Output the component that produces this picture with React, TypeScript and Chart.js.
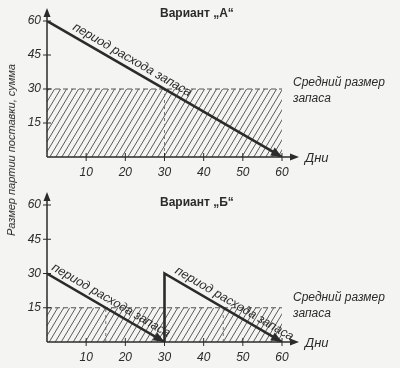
import React, { useEffect, useRef } from "react";
import { Chart, registerables } from "chart.js";
Chart.register(...registerables);

// ---- data ----
const xTicks = [0, 10, 20, 30, 40, 50, 60];
const yTicks = [0, 15, 30, 45, 60];
const daysA = [0, 60];
const stockA = [60, 0];
const avgA = 30;
const guidesA = [30];
const daysB = [0, 30, 30, 60];
const stockB = [30, 0, 30, 0];
const avgB = 15;
const guidesB = [15, 45];
const titleA = "Вариант „А“";
const titleB = "Вариант „Б“";
const lineLabel = "период расхода запаса";
const avgLabel = ["Средний размер", "запаса"];
const xAxisLabel = "Дни";
const yAxisLabel = "Размер партии поставки, сумма";

const BG = "#f4f4f3";
const INK = "#2b2b2b";
const SANS = '"Liberation Sans", Arial, sans-serif';

type Panel = {
  days: number[];
  stock: number[];
  avg: number;
  guides: number[];
  title: string;
  titleY: number;
  xAxisH: number;
  labels: { seg: number; t: number }[];
  arrows: number[];
  avgDy: number;
};

const panelA: Panel = {
  days: daysA, stock: stockA, avg: avgA, guides: guidesA, title: titleA,
  titleY: 14, xAxisH: 27, labels: [{ seg: 0, t: 0.095 }], arrows: [1], avgDy: -6,
};
const panelB: Panel = {
  days: daysB, stock: stockB, avg: avgB, guides: guidesB, title: titleB,
  titleY: 19, xAxisH: 26, labels: [{ seg: 0, t: 0.01 }, { seg: 2, t: 0.06 }], arrows: [1, 3], avgDy: -10,
};

function makeHatch() {
  const c = document.createElement("canvas");
  const w = 6, h = 10;
  c.width = w; c.height = h;
  const g = c.getContext("2d")!;
  g.strokeStyle = "#4a4a4a";
  g.lineWidth = 0.9;
  for (const k of [-1, 0, 1]) {
    g.beginPath();
    g.moveTo(k * w, h);
    g.lineTo((k + 1) * w, 0);
    g.stroke();
  }
  return g.createPattern(c, "repeat");
}

function tri(ctx: CanvasRenderingContext2D, tx: number, ty: number, ang: number, len: number, hw: number) {
  ctx.save();
  ctx.translate(tx, ty);
  ctx.rotate(ang);
  ctx.beginPath();
  ctx.moveTo(0, 0);
  ctx.lineTo(-len, -hw);
  ctx.lineTo(-len, hw);
  ctx.closePath();
  ctx.fill();
  ctx.restore();
}

function build(canvas: HTMLCanvasElement, p: Panel) {
  const stockData = p.days.map((d, i) => ({ x: d, y: p.stock[i] }));
  const xMin = xTicks[0], xMax = xTicks[xTicks.length - 1];
  const datasets: any[] = [
    {
      data: [{ x: xMin, y: p.avg }, { x: xMax, y: p.avg }],
      borderColor: "#555", borderWidth: 1, borderDash: [5, 3],
      pointRadius: 0, fill: "origin", backgroundColor: makeHatch(), order: 3,
    },
    ...p.guides.map((g) => ({
      data: [{ x: g, y: 0 }, { x: g, y: p.avg }],
      borderColor: "#777", borderWidth: 1, borderDash: [3, 3],
      pointRadius: 0, fill: false, order: 2,
    })),
    {
      data: stockData, borderColor: INK, borderWidth: 2.6,
      pointRadius: 0, fill: false, order: 1, tension: 0,
    },
  ];

  const deco = {
    id: "deco",
    afterDatasetsDraw(chart: any) {
      const ctx: CanvasRenderingContext2D = chart.ctx;
      const xs = chart.scales.x, ys = chart.scales.y;
      const a = chart.chartArea;
      const x0 = xs.getPixelForValue(0), y0 = ys.getPixelForValue(0);
      ctx.save();
      ctx.strokeStyle = INK; ctx.fillStyle = INK; ctx.lineWidth = 1.5;
      // axes
      ctx.beginPath();
      ctx.moveTo(x0, y0); ctx.lineTo(x0, a.top - 11);
      ctx.moveTo(x0, y0); ctx.lineTo(a.right + 14, y0);
      ctx.stroke();
      tri(ctx, x0, a.top - 13, -Math.PI / 2, 9, 3.5);
      tri(ctx, a.right + 17, y0, 0, 9, 3.5);
      // tick marks crossing the axes
      ctx.lineWidth = 1;
      ctx.beginPath();
      for (const v of yTicks) {
        if (v === 0) continue;
        const y = ys.getPixelForValue(v);
        ctx.moveTo(x0 - 4, y); ctx.lineTo(x0 + 4, y);
      }
      for (const v of xTicks) {
        if (v === 0) continue;
        const x = xs.getPixelForValue(v);
        ctx.moveTo(x, y0 - 4); ctx.lineTo(x, y0 + 4);
      }
      ctx.stroke();
      // arrowheads on the stock line
      for (const i of p.arrows) {
        const ax = xs.getPixelForValue(p.days[i]), ay = ys.getPixelForValue(p.stock[i]);
        const bx = xs.getPixelForValue(p.days[i - 1]), by = ys.getPixelForValue(p.stock[i - 1]);
        tri(ctx, ax, ay, Math.atan2(ay - by, ax - bx), 11, 4.5);
      }
      // labels along the line
      ctx.font = "italic 12.5px " + SANS;
      ctx.textBaseline = "alphabetic";
      ctx.textAlign = "left";
      for (const l of p.labels) {
        const sx = xs.getPixelForValue(p.days[l.seg]), sy = ys.getPixelForValue(p.stock[l.seg]);
        const ex = xs.getPixelForValue(p.days[l.seg + 1]), ey = ys.getPixelForValue(p.stock[l.seg + 1]);
        const ang = Math.atan2(ey - sy, ex - sx);
        ctx.save();
        ctx.translate(sx + (ex - sx) * l.t, sy + (ey - sy) * l.t);
        ctx.rotate(ang);
        ctx.fillText(lineLabel, 0, -5.5);
        ctx.restore();
      }
      // average label
      ctx.font = "italic 12px " + SANS;
      const ay = ys.getPixelForValue(p.avg);
      ctx.textBaseline = "middle";
      ctx.fillText(avgLabel[0], a.right + 11, ay + p.avgDy);
      ctx.fillText(avgLabel[1], a.right + 11, ay + p.avgDy + 16);
      // x axis name
      ctx.font = "italic 13px " + SANS;
      ctx.fillText(xAxisLabel, a.right + 23, y0 + 1);
      // title
      ctx.font = "bold 12px " + SANS;
      ctx.fillText(p.title, 160, p.titleY);
      ctx.restore();
    },
  };

  const tickFont = { family: SANS, size: 12, style: "italic" as const };
  return new Chart(canvas, {
    type: "line",
    data: { datasets },
    options: {
      responsive: false,
      animation: false,
      devicePixelRatio: 1,
      events: [],
      layout: { padding: { left: 0, right: 118, top: 21, bottom: 0 } },
      plugins: { legend: { display: false }, tooltip: { enabled: false } },
      scales: {
        x: {
          type: "linear", min: xMin, max: xMax,
          afterBuildTicks: (s: any) => { s.ticks = xTicks.map((v) => ({ value: v })); },
          afterFit: (s: any) => { s.height = p.xAxisH; },
          ticks: {
            callback: (v: any) => (v === 0 ? "" : String(v)),
            font: tickFont, color: INK, padding: 8, maxRotation: 0, autoSkip: false,
          },
          grid: { display: false, drawTicks: false, tickLength: 0 }, border: { display: false },
        },
        y: {
          type: "linear", min: yTicks[0], max: yTicks[yTicks.length - 1],
          afterBuildTicks: (s: any) => { s.ticks = yTicks.map((v) => ({ value: v })); },
          afterFit: (s: any) => { s.width = 47; },
          ticks: {
            callback: (v: any) => (v === 0 ? "" : String(v)),
            font: tickFont, color: INK, padding: 6, autoSkip: false,
          },
          grid: { display: false, drawTicks: false, tickLength: 0 }, border: { display: false },
        },
      },
    },
    plugins: [deco],
  } as any);
}

function ChartPanel({ panel, top }: { panel: Panel; top: number }) {
  const ref = useRef<HTMLCanvasElement>(null);
  useEffect(() => {
    const ch = build(ref.current!, panel);
    return () => ch.destroy();
  }, [panel]);
  return (
    <canvas ref={ref} width={400} height={184}
      style={{ position: "absolute", left: 0, top, width: 400, height: 184 }} />
  );
}

export default function App() {
  useEffect(() => {
    document.body.style.margin = "0";
    document.body.style.background = BG;
  }, []);
  return (
    <div style={{ position: "relative", width: 400, height: 368, background: BG, overflow: "hidden" }}>
      <ChartPanel panel={panelA} top={0} />
      <ChartPanel panel={panelB} top={184} />
      <div
        style={{
          position: "absolute", left: 11, top: 150,
          transform: "translate(-50%, -50%) rotate(-90deg)",
          whiteSpace: "nowrap", font: "italic 11px " + SANS, color: INK,
        }}
      >
        {yAxisLabel}
      </div>
    </div>
  );
}
